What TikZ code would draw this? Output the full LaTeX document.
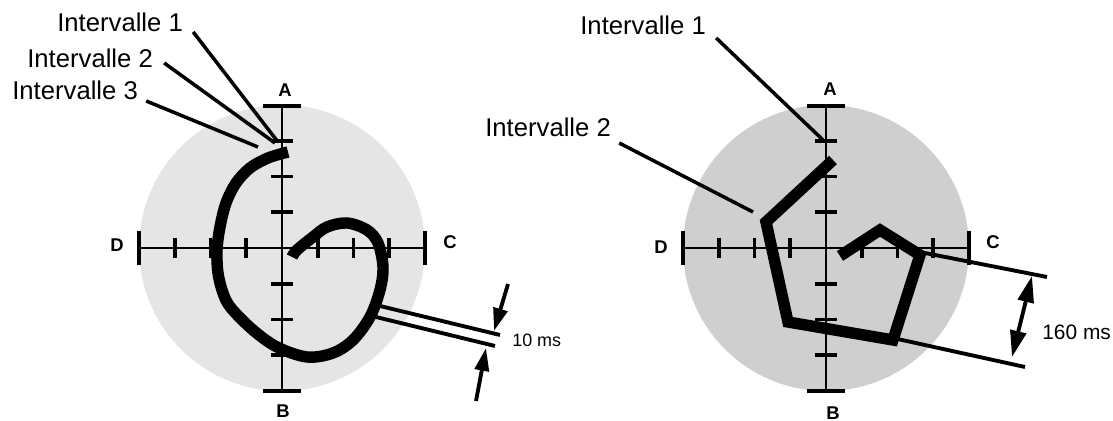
\documentclass[tikz,border=0pt]{standalone}
\usepackage{fontspec}
\setmainfont{Liberation Sans}
\usetikzlibrary{arrows.meta}

\begin{document}
\begin{tikzpicture}[
        x=0.02cm, y=-0.02cm,
        lbl/.style={inner sep=0pt, anchor=base west, font=\fontsize{14.6}{17}\selectfont},
        axlbl/.style={inner sep=0pt, font=\fontsize{10.5}{12}\selectfont\bfseries},
        mslbl/.style={inner sep=0pt, anchor=west},
        axisline/.style={line width=1.6pt},
        tickmark/.style={line width=2.2pt},
        endcap/.style={line width=2.4pt},
        leader/.style={line width=2pt},
        trace/.style={line width=6.5pt},
        ruler/.style={line width=2.2pt},
        fatarrow/.style={line width=2.2pt, -{Triangle[length=13pt, width=8pt]}},
        bigarrow/.style={line width=2.2pt, {Triangle[length=15pt, width=9pt]}-{Triangle[length=15pt, width=9pt]}}
    ]
    \useasboundingbox (0,0) rectangle (1113,421);

    % shaded disks and the two crosses
    \foreach \cx/\tone in {282/gray!20, 826/gray!38} {
        \fill[\tone] (\cx,248) circle (143);
        \draw[axisline] (\cx-143,248) -- (\cx+143,248);
        \draw[axisline] (\cx,106) -- (\cx,391);
        \draw[endcap] (\cx-143,231) -- (\cx-143,265);
        \draw[endcap] (\cx+143,231) -- (\cx+143,265);
        \draw[endcap] (\cx-19,106) -- (\cx+19,106);
        \draw[endcap] (\cx-19,391) -- (\cx+19,391);
        \foreach \k in {-3,-2,-1,1,2,3} {
            \draw[tickmark] (\cx+35.75*\k,238) -- (\cx+35.75*\k,258);
            \draw[tickmark] (\cx-11,248+35.75*\k) -- (\cx+11,248+35.75*\k);
        }
    }

    \node[axlbl] (aL) at (285,90) {A};
    \node[axlbl] (bL) at (283,411) {B};
    \node[axlbl] (cL) at (450,242) {C};
    \node[axlbl] (dL) at (117,245) {D};
    \node[axlbl] (aR) at (830,89) {A};
    \node[axlbl] (bR) at (833,413) {B};
    \node[axlbl] (cR) at (993,242) {C};
    \node[axlbl] (dR) at (661,247) {D};

    % left trace
    \draw[trace] plot[smooth, tension=0.55] coordinates {
        (288,152) (268,158) (250,168) (236,183) (226,203) (220,227) (217,250)
        (218,273) (223,293) (231,308) (253,330) (277,347) (307,357) (333,353)
        (353,340) (370,317) (380,290) (383,267) (378,243) (367,230) (347,223)
        (327,227) (313,237) (297,250) (292,257)};

    % right trace
    \draw[trace] (833,160) -- (766,222) -- (788,322) -- (893,340)
        -- (920,255) -- (880,230) -- (840,256);

    % left labels
    \node[lbl] (iL1) at (57,32) {Intervalle 1};
    \node[lbl] (iL2) at (27,68) {Intervalle 2};
    \node[lbl] (iL3) at (12,100) {Intervalle 3};
    \coordinate (pL1) at (278,142);
    \coordinate (pL2) at (275,143);
    \coordinate (pL3) at (258,147);
    \draw[leader] ([shift={(10,0)}]iL1.base east) -- (pL1);
    \draw[leader] ([shift={(11,-5)}]iL2.base east) -- (pL2);
    \draw[leader] ([shift={(8,1)}]iL3.base east) -- (pL3);

    % right labels
    \node[lbl] (iR1) at (580,35) {Intervalle 1};
    \node[lbl] (iR2) at (485,137) {Intervalle 2};
    \coordinate (pR1) at (823,140);
    \coordinate (pR2) at (753,212);
    \draw[leader] ([shift={(10,3)}]iR1.base east) -- (pR1);
    \draw[leader] ([shift={(8,6)}]iR2.base east) -- (pR2);

    % 10 ms
    \coordinate (m1a) at (380,306);
    \coordinate (m1b) at (500,335);
    \coordinate (m2a) at (376,317);
    \coordinate (m2b) at (495,346);
    \draw[ruler] (m1a) -- (m1b);
    \draw[ruler] (m2a) -- (m2b);
    \coordinate (ua) at (508,284);
    \coordinate (ub) at (494,331);
    \coordinate (la) at (476,401);
    \coordinate (lb) at (486,348);
    \draw[fatarrow] (ua) -- (ub);
    \draw[fatarrow] (la) -- (lb);
    \node[mslbl, font=\fontsize{10.2}{12}\selectfont] (ms10) at (512,340) {10 ms};

    % 160 ms
    \coordinate (n1a) at (925,253);
    \coordinate (n1b) at (1047,277);
    \coordinate (n2a) at (893,338);
    \coordinate (n2b) at (1025,367);
    \draw[ruler] (n1a) -- (n1b);
    \draw[ruler] (n2a) -- (n2b);
    \coordinate (ta) at (1032,276);
    \coordinate (tb) at (1012,357);
    \draw[bigarrow] (ta) -- (tb);
    \node[mslbl, font=\fontsize{11.9}{14}\selectfont] (ms160) at (1042,332) {160 ms};
\end{tikzpicture}
\end{document}
